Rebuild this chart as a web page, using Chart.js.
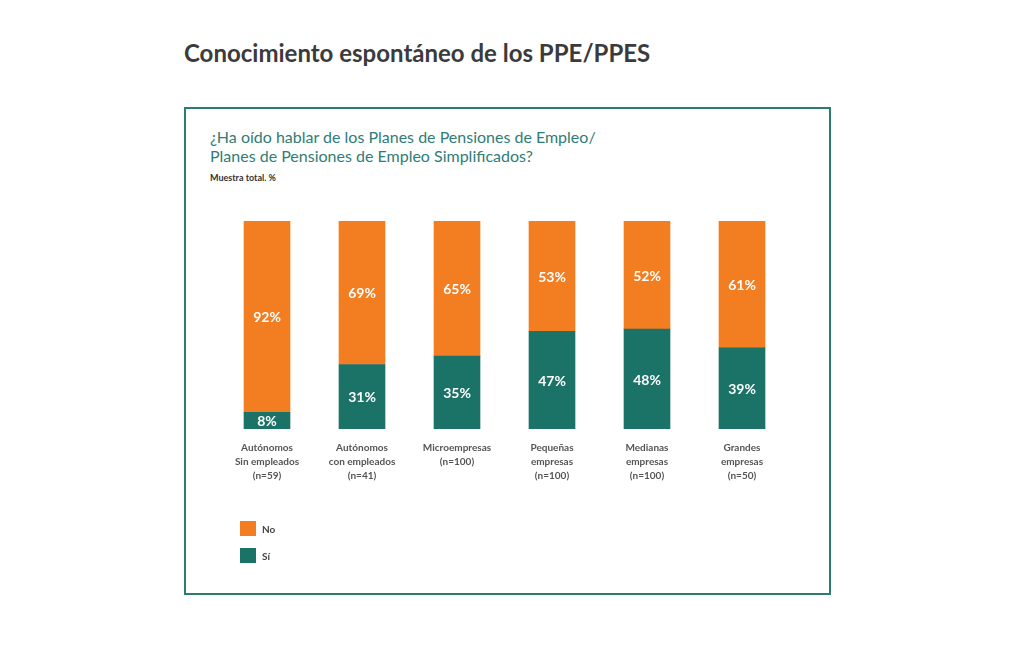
<!DOCTYPE html>
<html>
<head>
<meta charset="utf-8">
<script src="https://cdn.jsdelivr.net/npm/chart.js@4.4.0/dist/chart.umd.min.js"></script>
<style>
  html,body{margin:0;padding:0;background:#fff;}
  body{width:1033px;height:667px;position:relative;overflow:hidden;font-family:Lato,"Open Sans",sans-serif;}
  #title{position:absolute;left:184px;top:38px;font:bold 24px Lato,sans-serif;color:#3b3b3b;white-space:nowrap;}
  #frame{position:absolute;left:184px;top:107px;width:643px;height:484px;border:2px solid #2c7c72;}
  #sub{position:absolute;left:210px;top:127px;font:16px Lato,sans-serif;color:#2f7d76;line-height:19px;}
  #note{position:absolute;left:210px;top:172px;font:bold 9px Lato,sans-serif;color:#333;}
  #legend{position:absolute;left:240px;top:521px;font:bold 10px Lato,sans-serif;color:#444;}
  .li{height:15px;margin-bottom:12px;display:flex;align-items:center;}
  .sw{width:16px;height:15px;margin-right:6px;}
  #wrap{position:absolute;left:0;top:0;width:1033px;height:667px;}
</style>
</head>
<body>
<div id="title">Conocimiento espontáneo de los PPE/PPES</div>
<div id="frame"></div>
<div id="sub">¿Ha oído hablar de los Planes de Pensiones de Empleo/<br>Planes de Pensiones de Empleo Simplificados?</div>
<div id="note">Muestra total. %</div>
<div id="wrap"><canvas id="c" width="1033" height="667"></canvas></div>
<div id="legend"></div>
<script>
const categories = [
  ["Autónomos","Sin empleados","(n=59)"],
  ["Autónomos","con empleados","(n=41)"],
  ["Microempresas","(n=100)"],
  ["Pequeñas","empresas","(n=100)"],
  ["Medianas","empresas","(n=100)"],
  ["Grandes","empresas","(n=50)"]
];
const siValues = [8, 31, 35, 47, 48, 39];
const noValues = [92, 69, 65, 53, 52, 61];
const seriesNames = ["Sí", "No"];
const colors = {si: "#1b7267", no: "#f37e21"};

const valueLabels = {
  id: 'valueLabels',
  afterDatasetsDraw(chart) {
    const ctx = chart.ctx;
    ctx.save();
    ctx.fillStyle = '#ffffff';
    ctx.font = 'bold 14px Lato, sans-serif';
    ctx.textAlign = 'center';
    ctx.textBaseline = 'middle';
    chart.data.datasets.forEach((ds, i) => {
      const meta = chart.getDatasetMeta(i);
      meta.data.forEach((bar, j) => {
        const y = (bar.y + bar.base) / 2 + 1;
        ctx.fillText(ds.data[j] + '%', bar.x, y);
      });
    });
    ctx.restore();
  }
};

const chart = new Chart(document.getElementById('c'), {
  type: 'bar',
  data: {
    labels: categories,
    datasets: [
      {label: seriesNames[0], data: siValues, backgroundColor: colors.si, barThickness: 46},
      {label: seriesNames[1], data: noValues, backgroundColor: colors.no, barThickness: 46}
    ]
  },
  options: {
    responsive: false,
    animation: false,
    layout: {padding: {left: 219.5, right: 243.5, top: 221, bottom: 172}},
    plugins: {legend: {display: false}, tooltip: {enabled: false}},
    scales: {
      x: {
        stacked: true,
        grid: {display: false, drawTicks: false},
        border: {display: false},
        ticks: {color: '#555', font: {family: 'Lato', weight: 'bold', size: 10, lineHeight: 1.4}, padding: 12, maxRotation: 0, autoSkip: false}
      },
      y: {
        stacked: true, min: 0, max: 100, display: false
      }
    }
  },
  plugins: [valueLabels]
});

// HTML legend from chart datasets (No first, then Sí)
const leg = document.getElementById('legend');
chart.data.datasets.slice().reverse().forEach(ds => {
  const d = document.createElement('div'); d.className = 'li';
  const s = document.createElement('div'); s.className = 'sw'; s.style.background = ds.backgroundColor;
  const t = document.createElement('span'); t.textContent = ds.label;
  d.appendChild(s); d.appendChild(t); leg.appendChild(d);
});
</script>
</body>
</html>
